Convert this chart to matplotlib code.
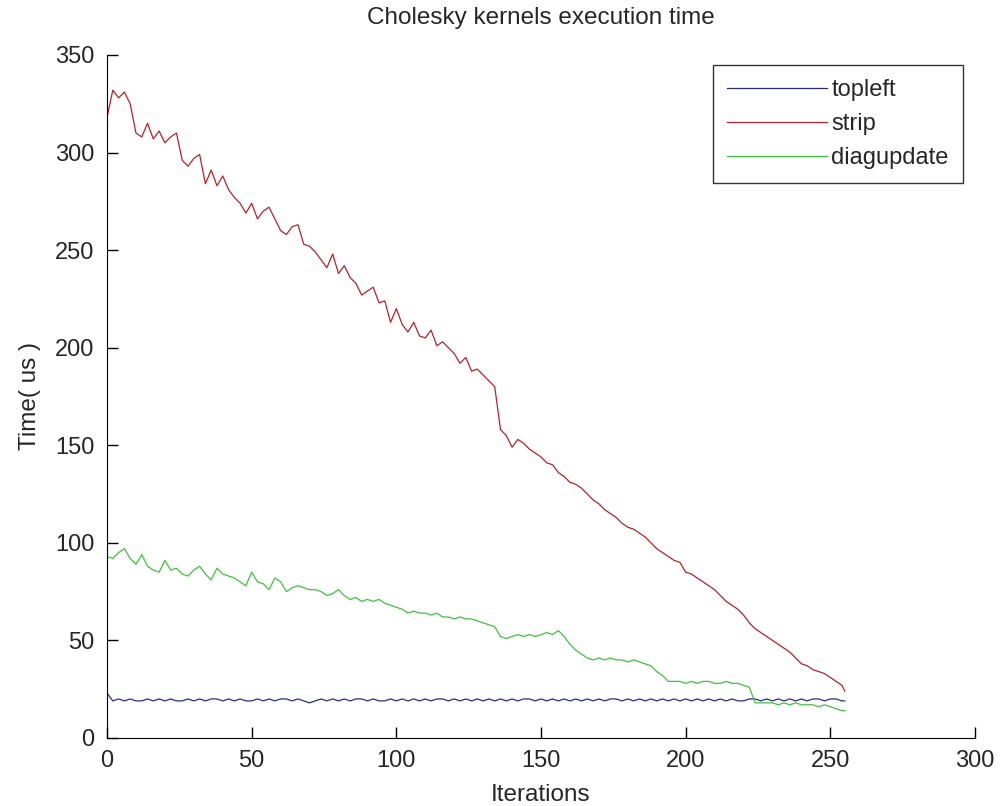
import numpy as np
import matplotlib
matplotlib.use("Agg")
import matplotlib.pyplot as plt

plt.rcParams['font.family'] = ['Liberation Sans', 'DejaVu Sans']

# iterations sampled every 2 steps
iters = list(range(0, 256, 2)) + [255]

strip = [318, 332, 328, 331, 325, 310, 308, 315, 307, 311,
         305, 308, 310, 296, 293, 297, 299, 284, 291, 283,
         288, 281, 277, 274, 269, 274, 266, 270, 272, 266,
         260, 258, 262, 263, 253, 252, 249, 245, 241, 248,
         238, 242, 236, 233, 227, 229, 231, 223, 224, 213,
         220, 212, 208, 213, 206, 205, 209, 201, 203, 200,
         197, 192, 195, 188, 189, 186, 183, 180, 158, 155,
         149, 153, 151, 148, 146, 144, 141, 140, 136, 134,
         131, 130, 128, 125, 122, 120, 117, 115, 113, 110,
         108, 107, 105, 103, 100, 97, 95, 93, 91, 90,
         85, 84, 82, 80, 78, 76, 73, 70, 68, 66,
         63, 59, 56, 54, 52, 50, 48, 46, 44, 41,
         38, 37, 35, 34, 33, 31, 29, 27, 24]

diagupdate = [93, 92, 95, 97, 92, 89, 94, 88, 86, 85,
              91, 86, 87, 84, 83, 86, 88, 84, 81, 87,
              84, 83, 82, 80, 78, 85, 80, 79, 76, 82,
              80, 75, 77, 78, 77, 76, 76, 75, 73, 74,
              76, 73, 71, 72, 70, 71, 70, 71, 69, 68,
              67, 66, 64, 65, 64, 64, 63, 64, 62, 62,
              61, 62, 61, 61, 60, 59, 58, 57, 52, 51,
              52, 53, 52, 53, 52, 53, 54, 53, 55, 52,
              48, 45, 43, 41, 40, 41, 40, 41, 40, 40,
              39, 40, 39, 38, 37, 34, 32, 29, 29, 29,
              28, 29, 28, 29, 29, 28, 28, 29, 28, 28,
              27, 26, 18, 18, 18, 18, 17, 18, 17, 18,
              17, 17, 17, 16, 17, 16, 15, 14, 14]

topleft = [23, 19, 20, 19, 20, 19, 19, 20, 19, 20,
           19, 20, 19, 19, 20, 19, 20, 19, 20, 20,
           19, 20, 19, 20, 19, 19, 20, 19, 20, 19,
           20, 20, 19, 20, 19, 18, 19, 20, 19, 20,
           19, 20, 19, 20, 20, 19, 20, 19, 19, 20,
           19, 20, 19, 20, 19, 20, 19, 20, 20, 19,
           20, 19, 20, 19, 20, 19, 20, 19, 20, 19,
           20, 19, 20, 20, 19, 20, 19, 20, 19, 20,
           19, 20, 19, 20, 19, 20, 19, 20, 20, 19,
           20, 19, 20, 19, 20, 19, 20, 19, 20, 19,
           20, 19, 20, 19, 20, 19, 20, 19, 20, 19,
           19, 20, 20, 19, 20, 19, 20, 19, 20, 19,
           20, 19, 20, 20, 19, 20, 20, 19, 19]

txt = '#262626'

fig = plt.figure(figsize=(10.04, 8.06), dpi=100)
ax = fig.add_axes([0.1066, 0.0844, 0.8645, 0.8474])

ax.plot(iters, topleft, color='#2b2b8c', lw=0.9, label='topleft')
ax.plot(iters, strip, color='#b8202c', lw=0.9, label='strip')
ax.plot(iters, diagupdate, color='#3cc43c', lw=0.9, label='diagupdate')

ax.set_xlim(0, 300)
ax.set_ylim(0, 350)
ax.set_xticks(np.arange(0, 301, 50))
ax.set_yticks(np.arange(0, 351, 50))
ax.spines['top'].set_visible(False)
ax.spines['right'].set_visible(False)
ax.tick_params(direction='in', length=8, width=1, labelsize=17,
               color='black', labelcolor=txt, pad=9)

ax.set_title('Cholesky kernels execution time', fontsize=17.5, pad=22, color=txt)
ax.set_xlabel('Iterations', fontsize=17.5, labelpad=8, color=txt)
ax.set_ylabel('Time( us )', fontsize=17.5, labelpad=10, color=txt)

leg = ax.legend(loc='upper right', fontsize=17, frameon=True, fancybox=False,
                handlelength=4.2, handletextpad=0.2, borderpad=0.6,
                labelspacing=0.5, borderaxespad=0,
                bbox_to_anchor=(0.986, 0.985))
leg.get_frame().set_edgecolor('black')
leg.get_frame().set_linewidth(1)
for t in leg.get_texts():
    t.set_color(txt)

fig.savefig('out.png', dpi=100)
